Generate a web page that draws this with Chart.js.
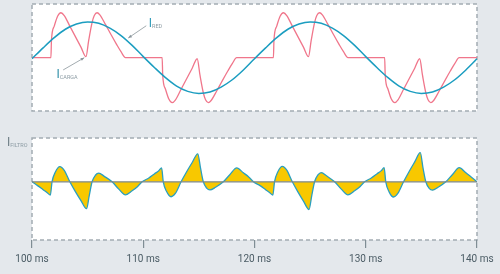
<!DOCTYPE html>
<html lang="en">
<head>
<meta charset="UTF-8">
<title>I RED / I CARGA / I FILTRO</title>
<script src="https://cdn.jsdelivr.net/npm/chart.js"></script>
<style>
    body { margin: 0; background: #e4e8ec; }
    #wrap { position: relative; width: 500px; height: 274px; overflow: hidden; }
    .panel { position: absolute; left: 0; width: 500px; }
    #top { top: 0; height: 122px; }
    #bottom { top: 122px; height: 152px; }
</style>
</head>
<body>
<div id="wrap">
    <div class="panel" id="top"><canvas id="topChart"></canvas></div>
    <div class="panel" id="bottom"><canvas id="bottomChart"></canvas></div>
</div>

<script>
// grid current (sine), read every 1 ms
const redTime = [100, 101, 102, 103, 104, 105, 106, 107, 108, 109, 110,
    111, 112, 113, 114, 115, 116, 117, 118, 119, 120,
    121, 122, 123, 124, 125, 126, 127, 128, 129, 130,
    131, 132, 133, 134, 135, 136, 137, 138, 139, 140];
const redValues = [-0.03, 0.28, 0.57, 0.81, 0.96, 1.02, 0.98, 0.84, 0.63, 0.35, 0.03,
    -0.28, -0.57, -0.81, -0.96, -1.02, -0.98, -0.84, -0.63, -0.35, -0.03,
    0.28, 0.57, 0.81, 0.96, 1.02, 0.98, 0.84, 0.63, 0.35, 0.03,
    -0.28, -0.57, -0.81, -0.96, -1.02, -0.98, -0.84, -0.63, -0.35, -0.03];

// load current
const cargaTime = [100, 101.7, 101.75, 102.0, 102.3, 102.6, 102.9, 103.4, 103.9, 104.4, 104.85,
    105.1, 105.4, 105.6, 105.85, 106.1, 106.6, 107.1, 107.6, 108.0, 108.4,
    111.7, 111.75, 112.0, 112.3, 112.6, 112.9, 113.4, 113.9, 114.4, 114.85,
    115.1, 115.4, 115.6, 115.85, 116.1, 116.6, 117.1, 117.6, 118.0, 118.4,
    121.7, 121.75, 122.0, 122.3, 122.6, 122.9, 123.4, 123.9, 124.4, 124.85,
    125.1, 125.4, 125.6, 125.85, 126.1, 126.6, 127.1, 127.6, 128.0, 128.4,
    131.7, 131.75, 132.0, 132.3, 132.6, 132.9, 133.4, 133.9, 134.4, 134.85,
    135.1, 135.4, 135.6, 135.85, 136.1, 136.6, 137.1, 137.6, 138.0, 138.4, 140];
const cargaValues = [0, 0, 0.5, 0.9, 1.18, 1.28, 1.2, 0.9, 0.6, 0.3, 0.03,
    0.5, 1.0, 1.2, 1.28, 1.22, 0.95, 0.66, 0.38, 0.17, 0,
    0, -0.5, -0.9, -1.18, -1.28, -1.2, -0.9, -0.6, -0.3, -0.03,
    -0.5, -1.0, -1.2, -1.28, -1.22, -0.95, -0.66, -0.38, -0.17, 0,
    0, 0.5, 0.9, 1.18, 1.28, 1.2, 0.9, 0.6, 0.3, 0.03,
    0.5, 1.0, 1.2, 1.28, 1.22, 0.95, 0.66, 0.38, 0.17, 0,
    0, -0.5, -0.9, -1.18, -1.28, -1.2, -0.9, -0.6, -0.3, -0.03,
    -0.5, -1.0, -1.2, -1.28, -1.22, -0.95, -0.66, -0.38, -0.17, 0, 0];

// filter current
const filtroTime = [100, 100.5, 101.0, 101.4, 101.65, 101.8, 102.1, 102.5, 102.9, 103.4, 103.9, 104.4, 104.9,
    105.15, 105.4, 105.7, 106.0, 106.5, 107.2, 107.8, 108.4, 109.0, 109.5, 109.9,
    110.5, 111.0, 111.4, 111.65, 111.8, 112.1, 112.5, 112.9, 113.4, 113.9, 114.4, 114.9,
    115.15, 115.4, 115.7, 116.0, 116.5, 117.2, 117.8, 118.4, 119.0, 119.5, 119.9,
    120.5, 121.0, 121.4, 121.65, 121.8, 122.1, 122.5, 122.9, 123.4, 123.9, 124.4, 124.9,
    125.15, 125.4, 125.7, 126.0, 126.5, 127.2, 127.8, 128.4, 129.0, 129.5, 129.9,
    130.5, 131.0, 131.4, 131.65, 131.8, 132.1, 132.5, 132.9, 133.4, 133.9, 134.4, 134.9,
    135.15, 135.4, 135.7, 136.0, 136.5, 137.2, 137.8, 138.4, 139.0, 139.5, 140];
const filtroValues = [0, -0.14, -0.29, -0.41, -0.49, 0, 0.36, 0.56, 0.42, 0, -0.36, -0.69, -0.99,
    -0.5, 0, 0.24, 0.32, 0.2, 0, -0.27, -0.48, -0.33, -0.17, 0,
    0.14, 0.29, 0.41, 0.51, 0, -0.36, -0.55, -0.42, 0, 0.37, 0.71, 1.03,
    0.5, 0, -0.23, -0.3, -0.2, 0, 0.27, 0.51, 0.33, 0.17, 0,
    -0.14, -0.29, -0.41, -0.49, 0, 0.37, 0.57, 0.43, 0, -0.37, -0.71, -1.02,
    -0.5, 0, 0.25, 0.34, 0.21, 0, -0.27, -0.48, -0.33, -0.17, 0,
    0.14, 0.29, 0.41, 0.52, 0, -0.37, -0.56, -0.42, 0, 0.38, 0.73, 1.07,
    0.5, 0, -0.24, -0.31, -0.2, 0, 0.27, 0.52, 0.33, 0.17, 0];

const timeTicks = [100, 110, 120, 130, 140];

const toPoints = (xs, ys) => xs.map((x, i) => ({ x: x, y: ys[i] }));

// white panel with dashed frame
const panelBox = {
    id: 'panelBox',
    beforeDraw(chart) {
        const { ctx, chartArea: a } = chart;
        ctx.save();
        ctx.fillStyle = '#ffffff';
        ctx.fillRect(a.left, a.top, a.right - a.left, a.bottom - a.top);
        ctx.setLineDash([4, 3]);
        ctx.strokeStyle = '#a2acb2';
        ctx.lineWidth = 1.5;
        ctx.strokeRect(a.left, a.top, a.right - a.left, a.bottom - a.top);
        ctx.restore();
    }
};

function drawLabel(ctx, x, y, sub, color) {
    ctx.font = '12px Roboto';
    ctx.fillStyle = color;
    ctx.textBaseline = 'alphabetic';
    ctx.textAlign = 'left';
    ctx.fillText('I', x, y);
    const w = ctx.measureText('I').width;
    ctx.font = '5.5px Roboto';
    ctx.fillStyle = '#8d9ca4';
    ctx.fillText(sub, x + w, y + 1);
}

function drawArrow(ctx, x1, y1, x2, y2) {
    ctx.strokeStyle = '#8a959b';
    ctx.fillStyle = '#8a959b';
    ctx.lineWidth = 0.8;
    ctx.beginPath();
    ctx.moveTo(x1, y1);
    ctx.lineTo(x2, y2);
    ctx.stroke();
    const ang = Math.atan2(y2 - y1, x2 - x1);
    ctx.beginPath();
    ctx.moveTo(x2, y2);
    ctx.lineTo(x2 - 4 * Math.cos(ang - 0.4), y2 - 4 * Math.sin(ang - 0.4));
    ctx.lineTo(x2 - 4 * Math.cos(ang + 0.4), y2 - 4 * Math.sin(ang + 0.4));
    ctx.closePath();
    ctx.fill();
}

const topLabels = {
    id: 'topLabels',
    afterDatasetsDraw(chart) {
        const { ctx, scales: { x, y } } = chart;
        ctx.save();
        drawArrow(ctx, x.getPixelForValue(110.27), y.getPixelForValue(0.91),
            x.getPixelForValue(108.65), y.getPixelForValue(0.56));
        drawLabel(ctx, x.getPixelForValue(110.5), y.getPixelForValue(0.88), 'RED', '#2e9bb8');
        drawArrow(ctx, x.getPixelForValue(102.8), y.getPixelForValue(-0.35),
            x.getPixelForValue(104.7), y.getPixelForValue(0.0));
        drawLabel(ctx, x.getPixelForValue(102.2), y.getPixelForValue(-0.57), 'CARGA', '#2e8fa8');
        ctx.restore();
    }
};

const bottomLabels = {
    id: 'bottomLabels',
    afterDatasetsDraw(chart) {
        const { ctx, scales: { x, y } } = chart;
        ctx.save();
        drawLabel(ctx, x.getPixelForValue(100) - 25, y.getPixelForValue(1.3), 'FILTRO', '#6d7c84');
        ctx.restore();
    }
};

new Chart(document.getElementById('topChart'), {
    type: 'line',
    data: {
        datasets: [
            {
                data: toPoints(redTime, redValues),
                borderColor: '#1b9dc0',
                borderWidth: 1.5,
                pointRadius: 0,
                cubicInterpolationMode: 'monotone'
            },
            {
                data: toPoints(cargaTime, cargaValues),
                borderColor: '#f0768b',
                borderWidth: 1.3,
                pointRadius: 0,
                cubicInterpolationMode: 'monotone'
            }
        ]
    },
    options: {
        responsive: true,
        maintainAspectRatio: false,
        animation: false,
        events: [],
        layout: { padding: { left: 32, right: 23, top: 4, bottom: 11 } },
        plugins: { legend: { display: false }, tooltip: { enabled: false } },
        scales: {
            x: { type: 'linear', min: 100, max: 140, display: false },
            y: { min: -1.52, max: 1.53, display: false }
        }
    },
    plugins: [panelBox, topLabels]
});

new Chart(document.getElementById('bottomChart'), {
    type: 'line',
    data: {
        datasets: [
            {
                data: [{ x: 100, y: 0 }, { x: 140, y: 0 }],
                borderColor: '#7c898f',
                borderWidth: 1.2,
                pointRadius: 0
            },
            {
                data: toPoints(filtroTime, filtroValues),
                borderColor: '#2a9fc0',
                borderWidth: 1.3,
                backgroundColor: '#f8c800',
                fill: 'origin',
                pointRadius: 0,
                cubicInterpolationMode: 'monotone'
            }
        ]
    },
    options: {
        responsive: true,
        maintainAspectRatio: false,
        animation: false,
        events: [],
        layout: { padding: { left: 32, right: 23, top: 16, bottom: 4 } },
        plugins: { legend: { display: false }, tooltip: { enabled: false } },
        scales: {
            x: {
                type: 'linear', min: 100, max: 140,
                afterBuildTicks: s => { s.ticks = timeTicks.map(v => ({ value: v })); },
                ticks: {
                    callback: v => v + ' ms',
                    color: '#4a5b64',
                    font: { family: 'Roboto', size: 10 },
                    padding: 5,
                    maxRotation: 0
                },
                grid: { drawOnChartArea: false, tickLength: 8, color: '#7f8d94', lineWidth: 1.2 },
                border: { display: false }
            },
            y: { min: -2.14, max: 1.61, display: false }
        }
    },
    plugins: [panelBox, bottomLabels]
});
</script>
</body>
</html>
